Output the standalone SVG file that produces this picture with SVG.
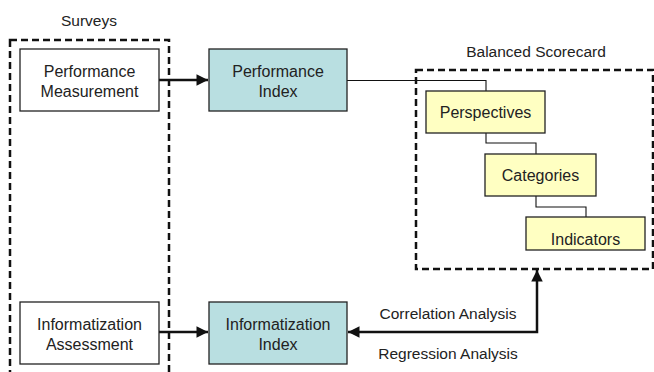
<svg xmlns="http://www.w3.org/2000/svg" width="654" height="372" viewBox="0 0 654 372">
<defs>
<style>
text{font-family:"Liberation Sans",Arial,sans-serif;font-size:15.5px;fill:#222;text-anchor:middle}
.n{font-size:16px}
.box{fill:#fff;stroke:#222;stroke-width:1.3}
.blue{fill:#b9dfe1;stroke:#222;stroke-width:1.3}
.yel{fill:#ffffc2;stroke:#222;stroke-width:1.3}
.dash{fill:none;stroke:#111;stroke-width:2.5;stroke-dasharray:7 4}
.thin{fill:none;stroke:#111;stroke-width:1.1}
.thick{fill:none;stroke:#111;stroke-width:2.5}
</style>
<marker id="ah" viewBox="0 0 10 10" refX="10" refY="5" markerWidth="4.8" markerHeight="4.6" orient="auto-start-reverse" markerUnits="strokeWidth">
<path d="M0,0 L10,5 L0,10 z" fill="#111"/>
</marker>
</defs>
<g id="surveys">
<rect class="dash" x="10" y="40" width="159" height="345"/>
<text x="89" y="26">Surveys</text>
</g>
<g id="scorecard">
<rect class="dash" x="416" y="70" width="237" height="199"/>
<text x="536" y="57">Balanced Scorecard</text>
</g>
<g id="connectors">
<line class="thick" x1="159" y1="80" x2="208" y2="80" marker-end="url(#ah)"/>
<line class="thick" x1="159" y1="332" x2="208" y2="332" marker-end="url(#ah)"/>
<path class="thin" d="M347,80.5 H486 V91"/>
<path class="thin" d="M486,133 V143 H536 V154"/>
<path class="thin" d="M536,196 V207 H586 V217"/>
<path class="thick" d="M348,332 H537 V270" marker-start="url(#ah)" marker-end="url(#ah)"/>
<text x="448" y="319">Correlation Analysis</text>
<text x="448" y="359">Regression Analysis</text>
</g>
<g id="perf-measurement">
<rect class="box" x="20" y="49" width="139" height="62"/>
<text class="n" x="89.5" y="77">Performance</text>
<text class="n" x="89.5" y="97">Measurement</text>
</g>
<g id="perf-index">
<rect class="blue" x="209" y="49" width="138" height="62"/>
<text class="n" x="278" y="77">Performance</text>
<text class="n" x="278" y="97">Index</text>
</g>
<g id="info-assessment">
<rect class="box" x="20" y="302" width="139" height="62"/>
<text class="n" x="89.5" y="330">Informatization</text>
<text class="n" x="89.5" y="350">Assessment</text>
</g>
<g id="info-index">
<rect class="blue" x="209" y="302" width="138" height="62"/>
<text class="n" x="278" y="330">Informatization</text>
<text class="n" x="278" y="350">Index</text>
</g>
<g id="perspectives">
<rect class="yel" x="426" y="91" width="119" height="42"/>
<text class="n" x="485.5" y="118">Perspectives</text>
</g>
<g id="categories">
<rect class="yel" x="485" y="154" width="111" height="42"/>
<text class="n" x="540.5" y="181">Categories</text>
</g>
<g id="indicators">
<rect class="yel" x="526" y="217" width="119" height="33"/>
<text class="n" x="585.5" y="245">Indicators</text>
</g>
</svg>
